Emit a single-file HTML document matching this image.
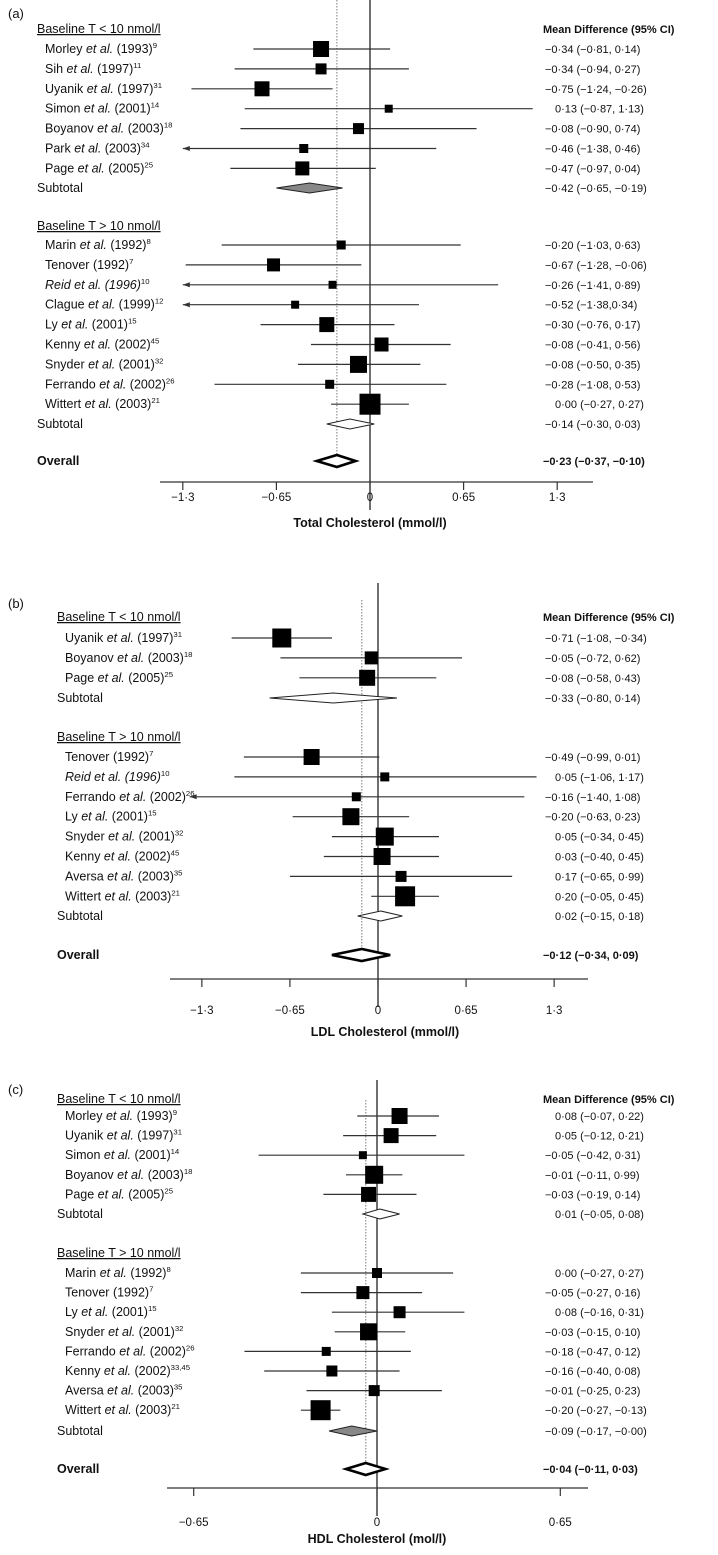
<!DOCTYPE html>
<html><head><meta charset="utf-8"><style>
html,body{margin:0;padding:0;background:#fff;}
svg{display:block;font-family:"Liberation Sans",Arial,sans-serif;}
</style></head><body>
<svg id="chart" width="718" height="1555" viewBox="0 0 718 1555" xmlns="http://www.w3.org/2000/svg"></svg>
<script>
// ---------- Panel A: Total cholesterol ----------
const aLabels1 = ["Morley |et al.| (1993)^9","Sih |et al.| (1997)^11","Uyanik |et al.| (1997)^31","Simon |et al.| (2001)^14","Boyanov |et al.| (2003)^18","Park |et al.| (2003)^34","Page |et al.| (2005)^25"];
const aMean1 = [-0.34,-0.34,-0.75,0.13,-0.08,-0.46,-0.47];
const aLo1 = [-0.81,-0.94,-1.24,-0.87,-0.90,-1.38,-0.97];
const aHi1 = [0.14,0.27,-0.26,1.13,0.74,0.46,0.04];
const aSize1 = [16,11,15,8,11,9,14];
const aText1 = ["−0·34 (−0·81, 0·14)","−0·34 (−0·94, 0·27)","−0·75 (−1·24, −0·26)","0·13 (−0·87, 1·13)","−0·08 (−0·90, 0·74)","−0·46 (−1·38, 0·46)","−0·47 (−0·97, 0·04)"];
const aSub1 = [-0.42,-0.65,-0.19];
const aSub1Text = "−0·42 (−0·65, −0·19)";
const aLabels2 = ["Marin |et al.| (1992)^8","Tenover (1992)^7","|Reid et al. (1996)|^10","Clague |et al.| (1999)^12","Ly |et al.| (2001)^15","Kenny |et al.| (2002)^45","Snyder |et al.| (2001)^32","Ferrando |et al.| (2002)^26","Wittert |et al.| (2003)^21"];
const aMean2 = [-0.20,-0.67,-0.26,-0.52,-0.30,0.08,-0.08,-0.28,0.00];
const aLo2 = [-1.03,-1.28,-1.41,-1.38,-0.76,-0.41,-0.50,-1.08,-0.27];
const aHi2 = [0.63,-0.06,0.89,0.34,0.17,0.56,0.35,0.53,0.27];
const aSize2 = [9,13,8,8,15,14,17,9,21];
const aText2 = ["−0·20 (−1·03, 0·63)","−0·67 (−1·28, −0·06)","−0·26 (−1·41, 0·89)","−0·52 (−1·38,0·34)","−0·30 (−0·76, 0·17)","−0·08 (−0·41, 0·56)","−0·08 (−0·50, 0·35)","−0·28 (−1·08, 0·53)","0·00 (−0·27, 0·27)"];
const aSub2 = [-0.14,-0.30,0.03];
const aSub2Text = "−0·14 (−0·30, 0·03)";
const aOverall = [-0.23,-0.37,-0.10];
const aOverallText = "−0·23 (−0·37, −0·10)";
const aTicks = [-1.3,-0.65,0,0.65,1.3];
const aTickLabels = ["−1·3","−0·65","0","0·65","1·3"];

// ---------- Panel B: LDL ----------
const bLabels1 = ["Uyanik |et al.| (1997)^31","Boyanov |et al.| (2003)^18","Page |et al.| (2005)^25"];
const bMean1 = [-0.71,-0.05,-0.08];
const bLo1 = [-1.08,-0.72,-0.58];
const bHi1 = [-0.34,0.62,0.43];
const bSize1 = [19,13,16];
const bText1 = ["−0·71 (−1·08, −0·34)","−0·05 (−0·72, 0·62)","−0·08 (−0·58, 0·43)"];
const bSub1 = [-0.33,-0.80,0.14];
const bSub1Text = "−0·33 (−0·80, 0·14)";
const bLabels2 = ["Tenover (1992)^7","|Reid et al. (1996)|^10","Ferrando |et al.| (2002)^26","Ly |et al.| (2001)^15","Snyder |et al.| (2001)^32","Kenny |et al.| (2002)^45","Aversa |et al.| (2003)^35","Wittert |et al.| (2003)^21"];
const bMean2 = [-0.49,0.05,-0.16,-0.20,0.05,0.03,0.17,0.20];
const bLo2 = [-0.99,-1.06,-1.40,-0.63,-0.34,-0.40,-0.65,-0.05];
const bHi2 = [0.01,1.17,1.08,0.23,0.45,0.45,0.99,0.45];
const bSize2 = [16,9,9,17,18,17,11,20];
const bText2 = ["−0·49 (−0·99, 0·01)","0·05 (−1·06, 1·17)","−0·16 (−1·40, 1·08)","−0·20 (−0·63, 0·23)","0·05 (−0·34, 0·45)","0·03 (−0·40, 0·45)","0·17 (−0·65, 0·99)","0·20 (−0·05, 0·45)"];
const bSub2 = [0.02,-0.15,0.18];
const bSub2Text = "0·02 (−0·15, 0·18)";
const bOverall = [-0.12,-0.34,0.09];
const bOverallText = "−0·12 (−0·34, 0·09)";
const bTicks = [-1.3,-0.65,0,0.65,1.3];
const bTickLabels = ["−1·3","−0·65","0","0·65","1·3"];

// ---------- Panel C: HDL ----------
const cLabels1 = ["Morley |et al.| (1993)^9","Uyanik |et al.| (1997)^31","Simon |et al.| (2001)^14","Boyanov |et al.| (2003)^18","Page |et al.| (2005)^25"];
const cMean1 = [0.08,0.05,-0.05,-0.01,-0.03];
const cLo1 = [-0.07,-0.12,-0.42,-0.11,-0.19];
const cHi1 = [0.22,0.21,0.31,0.09,0.14];
const cSize1 = [16,15,8,18,15];
const cText1 = ["0·08 (−0·07, 0·22)","0·05 (−0·12, 0·21)","−0·05 (−0·42, 0·31)","−0·01 (−0·11, 0·99)","−0·03 (−0·19, 0·14)"];
const cSub1 = [0.01,-0.05,0.08];
const cSub1Text = "0·01 (−0·05, 0·08)";
const cLabels2 = ["Marin |et al.| (1992)^8","Tenover (1992)^7","Ly |et al.| (2001)^15","Snyder |et al.| (2001)^32","Ferrando |et al.| (2002)^26","Kenny |et al.| (2002)^33,45","Aversa |et al.| (2003)^35","Wittert |et al.| (2003)^21"];
const cMean2 = [0.00,-0.05,0.08,-0.03,-0.18,-0.16,-0.01,-0.20];
const cLo2 = [-0.27,-0.27,-0.16,-0.15,-0.47,-0.40,-0.25,-0.27];
const cHi2 = [0.27,0.16,0.31,0.10,0.12,0.08,0.23,-0.13];
const cSize2 = [10,13,12,17,9,11,11,20];
const cText2 = ["0·00 (−0·27, 0·27)","−0·05 (−0·27, 0·16)","0·08 (−0·16, 0·31)","−0·03 (−0·15, 0·10)","−0·18 (−0·47, 0·12)","−0·16 (−0·40, 0·08)","−0·01 (−0·25, 0·23)","−0·20 (−0·27, −0·13)"];
const cSub2 = [-0.09,-0.17,0.00];
const cSub2Text = "−0·09 (−0·17, −0·00)";
const cOverall = [-0.04,-0.11,0.03];
const cOverallText = "−0·04 (−0·11, 0·03)";
const cTicks = [-0.65,0,0.65];
const cTickLabels = ["−0·65","0","0·65"];

const NS = "http://www.w3.org/2000/svg";
const svg = document.getElementById("chart");
function mk(tag, attrs, parent) {
  const e = document.createElementNS(NS, tag);
  for (const k in attrs) e.setAttribute(k, attrs[k]);
  (parent || svg).appendChild(e);
  return e;
}
function richText(parent, x, y, str, size) {
  const t = mk("text", {x: x, y: y, "font-size": size, fill: "#111"}, parent);
  let main = str, sup = "";
  const ci = str.indexOf("^");
  if (ci >= 0) { main = str.slice(0, ci); sup = str.slice(ci + 1); }
  main.split("|").forEach((part, i) => {
    if (!part) return;
    const s = mk("tspan", {}, t);
    if (i % 2 === 1) s.setAttribute("font-style", "italic");
    s.textContent = part;
  });
  if (sup) {
    const s = mk("tspan", {"font-size": size * 0.62, dy: -5}, t);
    s.textContent = sup;
  }
  return t;
}

function panel(cfg) {
  const g = mk("g", {});
  
  
  const X = v => cfg.zero + v * cfg.scale;
  const pl = mk("text", {x: 8, y: cfg.labelY, "font-size": 13, fill: "#111"}, g);
  
  
  pl.textContent = cfg.letter;
  // reference lines
  const dl = mk("line", {x1: X(cfg.overall[0]), x2: X(cfg.overall[0]), y1: cfg.dotTop, y2: cfg.overallY, stroke: "#999", "stroke-width": 1.3, "stroke-dasharray": "1.5,1.5"}, g);
  
  
  const zl = mk("line", {x1: X(0), x2: X(0), y1: cfg.zeroTop, y2: cfg.axisY + 28, stroke: "#222", "stroke-width": 1.3}, g);
  
  
  // header right
  const mh = mk("text", {x: 543, y: cfg.h1Y + 4, "font-size": 11, "font-weight": "bold", fill: "#111"}, g);
  
  
  mh.textContent = "Mean Difference (95% CI)";

  function group(hY, header, labels, mean, lo, hi, size, texts, rowY, step, sub, subY, subText, subFill, gi) {
    const hd = mk("text", {x: cfg.hx, y: hY + 4, "font-size": 12.5, fill: "#111", "text-decoration": "underline"}, g);
    
    
    hd.textContent = header;
    for (let i = 0; i < labels.length; i++) {
      const y = rowY + i * step;
      const lt = richText(g, cfg.sx, y + 4, labels[i], 12.5);
      
      
      let l = lo[i], arrow = false;
      if (l < cfg.clipLo) { l = cfg.clipLo; arrow = true; }
      const ln = mk("line", {x1: X(l), x2: X(Math.min(hi[i], cfg.clipHi)), y1: y, y2: y, stroke: "#333", "stroke-width": 1.2}, g);
      
      
      if (arrow) {
        const ax = X(l);
        const ar = mk("polygon", {points: `${ax},${y} ${ax+7},${y-2.5} ${ax+7},${y+2.5}`, fill: "#333"}, g);
        
        
      }
      const s = size[i];
      const bx = mk("rect", {x: X(mean[i]) - s / 2, y: y - s / 2, width: s, height: s, fill: "#000"}, g);
      
      
      const vt = mk("text", {x: texts[i].startsWith("−") ? 545 : 555, y: y + 4, "font-size": 11, fill: "#111"}, g);
      
      
      vt.textContent = texts[i];
    }
    const st = mk("text", {x: cfg.hx, y: subY + 4, "font-size": 12.5, fill: "#111"}, g);
    
    
    st.textContent = "Subtotal";
    const d = mk("polygon", {points: `${X(sub[1])},${subY} ${X(sub[0])},${subY-5} ${X(sub[2])},${subY} ${X(sub[0])},${subY+5}`, fill: subFill, stroke: "#222", "stroke-width": 1}, g);
    
    
    const sv = mk("text", {x: subText.startsWith("−") ? 545 : 555, y: subY + 4, "font-size": 11, fill: "#111"}, g);
    
    
    sv.textContent = subText;
  }
  group(cfg.h1Y, "Baseline T < 10 nmol/l", cfg.L1, cfg.M1, cfg.Lo1, cfg.Hi1, cfg.S1, cfg.T1, cfg.r1Y, cfg.step, cfg.sub1, cfg.sub1Y, cfg.sub1Text, cfg.sub1Fill, 1);
  group(cfg.h2Y, "Baseline T > 10 nmol/l", cfg.L2, cfg.M2, cfg.Lo2, cfg.Hi2, cfg.S2, cfg.T2, cfg.r2Y, cfg.step, cfg.sub2, cfg.sub2Y, cfg.sub2Text, cfg.sub2Fill, 2);
  // overall
  const oy = cfg.overallY;
  const ol = mk("text", {x: cfg.hx, y: oy + 4, "font-size": 12.5, "font-weight": "bold", fill: "#111"}, g);
  
  
  ol.textContent = "Overall";
  const od = mk("polygon", {points: `${X(cfg.overall[1])},${oy} ${X(cfg.overall[0])},${oy-6} ${X(cfg.overall[2])},${oy} ${X(cfg.overall[0])},${oy+6}`, fill: "#fff", stroke: "#000", "stroke-width": 2.6}, g);
  
  
  const ov = mk("text", {x: 543, y: oy + 4, "font-size": 11, "font-weight": "bold", fill: "#111"}, g);
  
  
  ov.textContent = cfg.overallText;
  // axis
  const ax = mk("line", {x1: cfg.axX1, x2: cfg.axX2, y1: cfg.axisY, y2: cfg.axisY, stroke: "#333", "stroke-width": 1.3}, g);
  
  
  cfg.ticks.forEach((t, i) => {
    const tk = mk("line", {x1: X(t), x2: X(t), y1: cfg.axisY, y2: cfg.axisY + 8, stroke: "#333", "stroke-width": 1.2}, g);
    
    
    const tl = mk("text", {x: X(t), y: cfg.tickY, "font-size": 11.5, "text-anchor": "middle", fill: "#111"}, g);
    
    
    tl.textContent = cfg.tickLabels[i];
  });
  const at = mk("text", {x: cfg.titleX, y: cfg.titleY, "font-size": 12.5, "font-weight": "bold", "text-anchor": "middle", fill: "#111"}, g);
  
  
  at.textContent = cfg.title;
}

panel({name: "panel-a-total-cholesterol", letter: "(a)", labelY: 18, zero: 370, scale: 144, hx: 37, sx: 45,
  h1Y: 29, r1Y: 49, step: 19.9, L1: aLabels1, M1: aMean1, Lo1: aLo1, Hi1: aHi1, S1: aSize1, T1: aText1, sub1: aSub1, sub1Y: 188, sub1Text: aSub1Text, sub1Fill: "#888",
  h2Y: 226, r2Y: 245, L2: aLabels2, M2: aMean2, Lo2: aLo2, Hi2: aHi2, S2: aSize2, T2: aText2, sub2: aSub2, sub2Y: 424, sub2Text: aSub2Text, sub2Fill: "#fff",
  overall: aOverall, overallY: 461, overallText: aOverallText, clipLo: -1.3, clipHi: 1.4,
  dotTop: 0, zeroTop: 0, axisY: 482, axX1: 160, axX2: 593, ticks: aTicks, tickLabels: aTickLabels, tickY: 501, title: "Total Cholesterol (mmol/l)", titleX: 370, titleY: 527});

panel({name: "panel-b-ldl-cholesterol", letter: "(b)", labelY: 608, zero: 378, scale: 135.5, hx: 57, sx: 65,
  h1Y: 617, r1Y: 638, step: 19.9, L1: bLabels1, M1: bMean1, Lo1: bLo1, Hi1: bHi1, S1: bSize1, T1: bText1, sub1: bSub1, sub1Y: 698, sub1Text: bSub1Text, sub1Fill: "#fff",
  h2Y: 737, r2Y: 757, L2: bLabels2, M2: bMean2, Lo2: bLo2, Hi2: bHi2, S2: bSize2, T2: bText2, sub2: bSub2, sub2Y: 916, sub2Text: bSub2Text, sub2Fill: "#fff",
  overall: bOverall, overallY: 955, overallText: bOverallText, clipLo: -1.39, clipHi: 1.4,
  dotTop: 600, zeroTop: 583, axisY: 979, axX1: 170, axX2: 588, ticks: bTicks, tickLabels: bTickLabels, tickY: 1014, title: "LDL Cholesterol (mmol/l)", titleX: 385, titleY: 1036});

panel({name: "panel-c-hdl-cholesterol", letter: "(c)", labelY: 1094, zero: 377, scale: 282, hx: 57, sx: 65,
  h1Y: 1099, r1Y: 1116, step: 19.6, L1: cLabels1, M1: cMean1, Lo1: cLo1, Hi1: cHi1, S1: cSize1, T1: cText1, sub1: cSub1, sub1Y: 1214, sub1Text: cSub1Text, sub1Fill: "#fff",
  h2Y: 1253, r2Y: 1273, L2: cLabels2, M2: cMean2, Lo2: cLo2, Hi2: cHi2, S2: cSize2, T2: cText2, sub2: cSub2, sub2Y: 1431, sub2Text: cSub2Text, sub2Fill: "#888",
  overall: cOverall, overallY: 1469, overallText: cOverallText, clipLo: -0.7, clipHi: 0.75,
  dotTop: 1100, zeroTop: 1080, axisY: 1488, axX1: 167, axX2: 588, ticks: cTicks, tickLabels: cTickLabels, tickY: 1526, title: "HDL Cholesterol (mol/l)", titleX: 377, titleY: 1543});
</script>
</body></html>
